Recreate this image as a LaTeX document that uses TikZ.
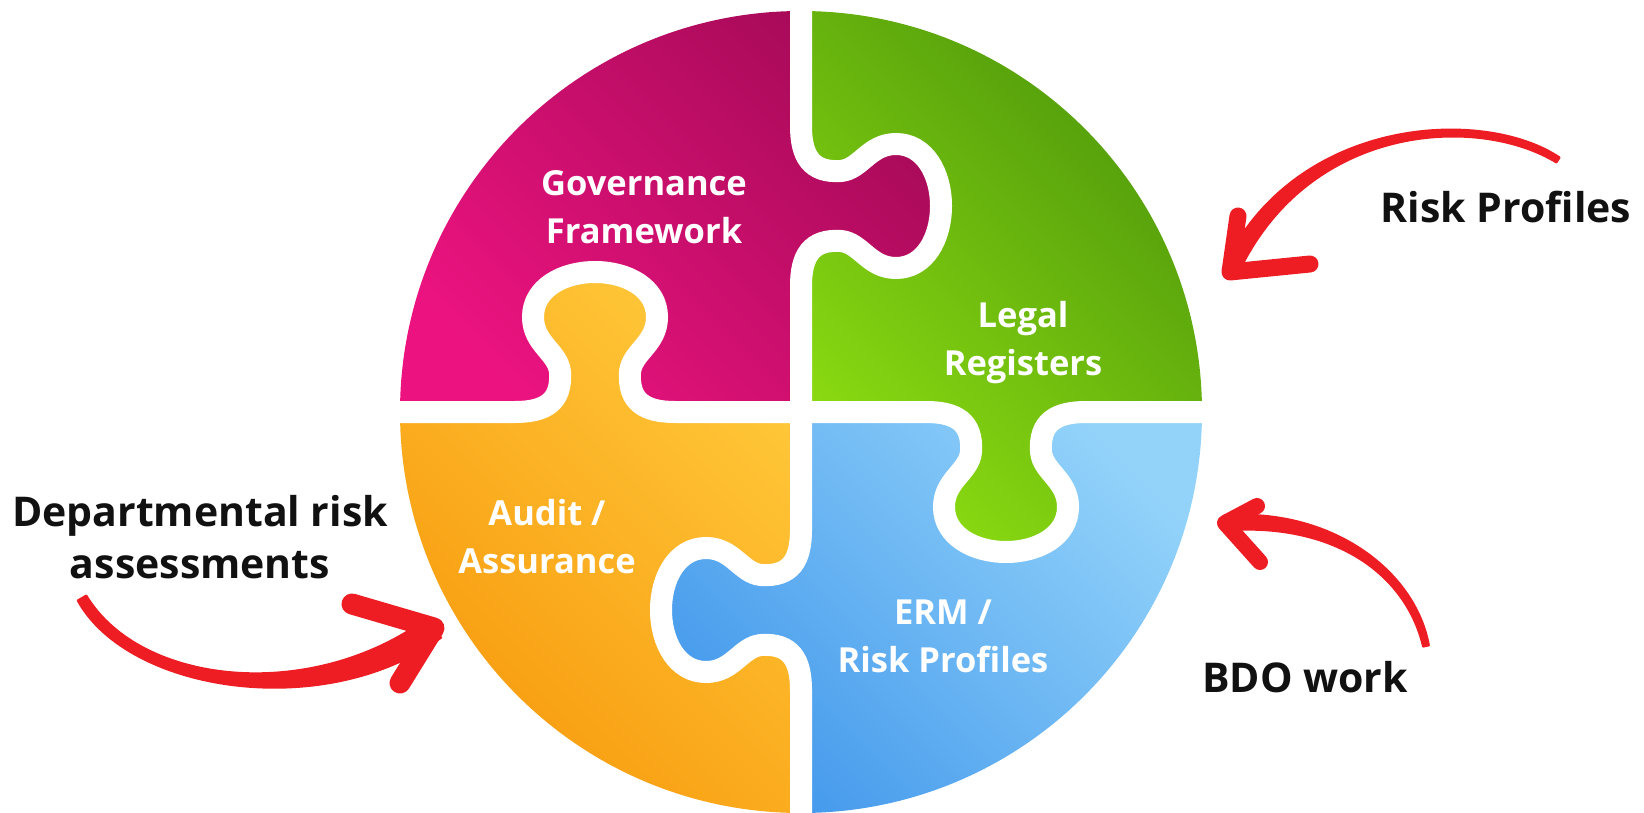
\documentclass[tikz,border=0pt]{standalone}
\usepackage{fontspec}
\setmainfont{Open Sans}
\definecolor{magL}{HTML}{EC1380}
\definecolor{magU}{HTML}{A50A57}
\definecolor{grnL}{HTML}{8EDE12}
\definecolor{grnU}{HTML}{4F980B}
\definecolor{orgL}{HTML}{F89A0E}
\definecolor{orgU}{HTML}{FFC93A}
\definecolor{bluL}{HTML}{4499EC}
\definecolor{bluU}{HTML}{93D3FA}
\definecolor{arrred}{HTML}{EE1D23}
\definecolor{txtblack}{HTML}{111111}
\begin{document}
\begin{tikzpicture}[x=1pt,y=-1pt,
  cut/.style={draw=white,line width=22pt},
  intext/.style={text=white,font=\bfseries\fontsize{34.5}{48}\selectfont,align=center},
  outtext/.style={text=txtblack,font=\bfseries\fontsize{41}{52}\selectfont,align=center},
  redbody/.style={fill=arrred,draw=arrred,line width=2pt,line join=round},
  redbarb/.style={draw=arrred,line cap=round,line join=round},
]
\useasboundingbox (0,0) rectangle (1644,813);
\fill[white] (0,0) rectangle (1644,813);
\def\vcutpath{-- (801,126)
 .. controls (801,156) and (811,173) .. (841,171)
 .. controls (861,169) and (869,144) .. (896,144)
 .. controls (925,144) and (941,174) .. (941,206)
 .. controls (941,238) and (925,268) .. (896,268)
 .. controls (869,268) and (861,243) .. (841,241)
 .. controls (811,239) and (801,256) .. (801,286)
 -- (801,530)
 .. controls (801,560) and (791,577) .. (761,575)
 .. controls (741,573) and (733,548) .. (706,548)
 .. controls (677,548) and (661,578) .. (661,610)
 .. controls (661,642) and (677,672) .. (706,672)
 .. controls (733,672) and (741,647) .. (761,645)
 .. controls (791,643) and (801,660) .. (801,690)}
\def\hcutpath{-- (515,412)
 .. controls (545,412) and (562,402) .. (560,372)
 .. controls (558,352) and (533,344) .. (533,317)
 .. controls (533,288) and (563,272) .. (595,272)
 .. controls (627,272) and (657,288) .. (657,317)
 .. controls (657,344) and (632,352) .. (630,372)
 .. controls (628,402) and (645,412) .. (675,412)
 -- (926,412)
 .. controls (956,412) and (973,422) .. (971,452)
 .. controls (969,472) and (944,480) .. (944,507)
 .. controls (944,536) and (974,552) .. (1006,552)
 .. controls (1038,552) and (1068,536) .. (1068,507)
 .. controls (1068,480) and (1043,472) .. (1041,452)
 .. controls (1039,422) and (1056,412) .. (1086,412)}
\begin{scope}
 \clip (801,412) circle [radius=401];
 % top-left: Governance
 \begin{scope}
  \clip (300,-40) -- (801,-40) \vcutpath -- (801,850) -- (300,850) -- cycle;
  \clip (360,-40) -- (360,412) \hcutpath -- (1240,412) -- (1240,-40) -- cycle;
  \shade[left color=magL,right color=magU,shading angle=135] (395,5) rectangle (960,420);
 \end{scope}
 % top-right: Legal
 \begin{scope}
  \clip (1300,-40) -- (801,-40) \vcutpath -- (801,850) -- (1300,850) -- cycle;
  \clip (360,-40) -- (360,412) \hcutpath -- (1240,412) -- (1240,-40) -- cycle;
  \shade[left color=grnL,right color=grnU,shading angle=135] (790,5) rectangle (1210,570);
 \end{scope}
 % bottom-left: Audit
 \begin{scope}
  \clip (300,-40) -- (801,-40) \vcutpath -- (801,850) -- (300,850) -- cycle;
  \clip (360,850) -- (360,412) \hcutpath -- (1240,412) -- (1240,850) -- cycle;
  \shade[left color=orgL,right color=orgU,shading angle=135] (395,260) rectangle (810,815);
 \end{scope}
 % bottom-right: ERM
 \begin{scope}
  \clip (1300,-40) -- (801,-40) \vcutpath -- (801,850) -- (1300,850) -- cycle;
  \clip (360,850) -- (360,412) \hcutpath -- (1240,412) -- (1240,850) -- cycle;
  \shade[left color=bluL,right color=bluU,shading angle=135] (650,400) rectangle (1210,815);
 \end{scope}
\end{scope}
% white gaps between the pieces
\draw[cut] (801,-40) \vcutpath -- (801,850);
\draw[cut] (360,412) \hcutpath -- (1240,412);

% texts inside the pieces
\node[intext] (gov) at (644,207) {Governance\\Framework};
\node[intext] (leg) at (1023,343) {Legal\\Registers};
\node[intext] (aud) at (547,537) {Audit /\\Assurance};
\node[intext] (erm) at (943,636) {ERM /\\Risk Profiles};

% outer labels
\node[outtext] (dep) at (200,537) {Departmental risk\\assessments};
\node[outtext] (rp) at (1506,207) {Risk Profiles};
\node[outtext] (bdo) at (1305,677) {BDO work};

% arrows (tapered brush bodies + barbs)
\coordinate (h1) at (434,628);
\coordinate (h2) at (1230,272);
\coordinate (h3) at (1225,523);
\path[redbody] (77.7,600.5) .. controls (128.9,693.5) and (327.1,721.7) .. (441.1,637.7)
  -- (426.9,618.3) .. controls (312.9,702.3) and (141.1,686.5) .. (86.3,595.5) -- cycle;
\draw[redbarb,line width=21pt] (352,604) -- (h1) -- (400,683);
\path[redbody] (1559.6,157.5) .. controls (1482.7,105.8) and (1292.7,116.7) .. (1222.7,268.7)
  -- (1237.3,275.3) .. controls (1307.3,123.3) and (1477.3,114.2) .. (1556.4,162.5) -- cycle;
\draw[redbarb,line width=17pt] (1238,216) -- (h2) -- (1310,264);
\path[redbody] (1428.9,645.4) .. controls (1414.9,569) and (1329.4,507.5) .. (1224.4,515.5)
  -- (1225.6,530.5) .. controls (1330.6,522.5) and (1405.1,571) .. (1423.1,646.6) -- cycle;
\draw[redbarb,line width=16pt] (1257,506) -- (h3) -- (1260,562);
\end{tikzpicture}
\end{document}
